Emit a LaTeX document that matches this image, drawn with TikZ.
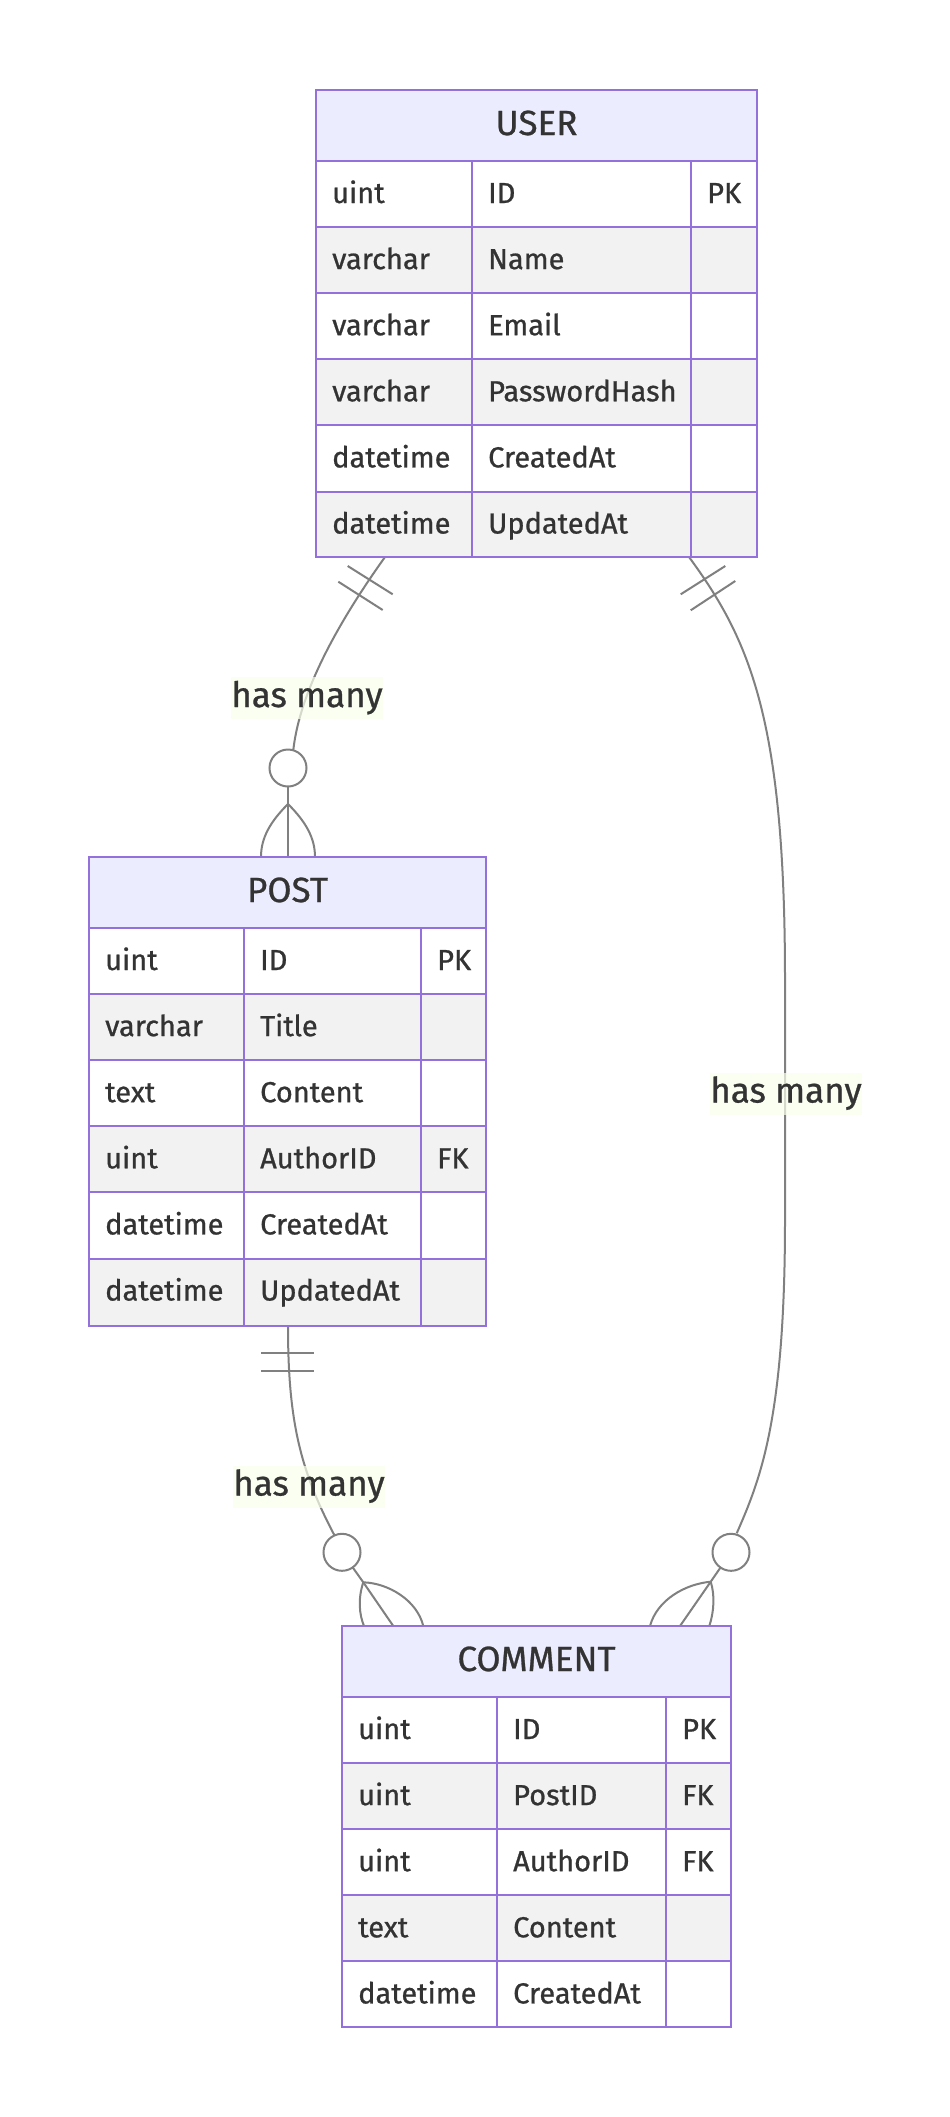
\documentclass[tikz,border=0pt]{standalone}
\usepackage{fontspec}
\setmainfont{Fira Sans}[RawFeature={embolden=0.8}]
\definecolor{erborder}{HTML}{9370DB}
\definecolor{erhead}{HTML}{ECECFF}
\definecolor{errow}{HTML}{F2F2F2}
\definecolor{eredge}{HTML}{808080}
\definecolor{ertext}{HTML}{333333}
\definecolor{erlabel}{RGB}{249,255,236}
\tikzset{
  tbl/.style={draw=erborder, line width=2pt},
  cell/.style={anchor=base west, inner sep=0pt, text=ertext, font=\fontsize{29}{35}\selectfont},
  ttl/.style={anchor=base, inner sep=0pt, text=ertext, font=\fontsize{35}{42}\selectfont},
  rel/.style={draw=eredge, line width=2pt},
  card/.style={draw=eredge, line width=2pt, fill=white},
  lbl/.style={fill=erlabel, fill opacity=0.7, text opacity=1, text=ertext, minimum width=150pt, minimum height=42pt, inner sep=0pt, text height=26pt, text depth=8pt, font=\fontsize{35}{42}\selectfont},
}
% #1 name, #2 x0, #3 x1, #4 x2, #5 x3, #6 ytop, #7 ybot, #8 title, #9 rows
\newcommand\ertable[9]{%
  \fill[erhead] (#2,#6) rectangle (#5,#6+71);
  \node[ttl] (#1) at ({(#2+#5)/2},#6+45) {#8};
  \foreach \ty/\nm/\ky [count=\i] in {#9} {
    \pgfmathsetmacro\yt{#6+71+(\i-1)*66.1}
    \pgfmathtruncatemacro\odd{mod(\i,2)}
    \ifnum\odd=1 \def\rc{white}\else\def\rc{errow}\fi
    \fill[\rc] (#2,\yt) rectangle (#5,\yt+66.1);
    \node[cell] (#1-t\i) at (#2+16,\yt+42) {\ty};
    \node[cell] (#1-n\i) at (#3+16,\yt+42) {\nm};
    \node[cell] (#1-k\i) at (#4+16,\yt+42) {\ky};
    \draw[tbl] (#2,\yt) -- (#5,\yt);
  }
  \draw[tbl] (#3,#6+71) -- (#3,#7) (#4,#6+71) -- (#4,#7);
  \draw[tbl] (#2,#6) rectangle (#5,#7);
}
\begin{document}
\begin{tikzpicture}[x=1pt,y=-1pt]
\useasboundingbox (0,0) rectangle (950,2117);
\fill[white] (0,0) rectangle (950,2117);

% ---------- USER -> POST ----------
\coordinate (e1s) at (385,557);
\coordinate (e1c) at (288,768);
\coordinate (e1a) at (288,804);
\draw[rel] (e1s) .. controls (340,620) and (300,690) .. (293.3,750);
\draw[rel] (347.7,566) -- (392.7,594.3) (338.3,581.7) -- (382.7,610);
\draw[rel] (288,786) -- (e1a);
\draw[rel] (e1a) -- (288,857);
\draw[rel] (e1a) .. controls (270,822) and (261,838) .. (261,857);
\draw[rel] (e1a) .. controls (306,822) and (315,838) .. (315,857);
\node[card, circle, minimum size=37pt, inner sep=0pt] (e1o) at (e1c) {};

% ---------- POST -> COMMENT ----------
\coordinate (e2s) at (288,1326);
\coordinate (e2c) at (342,1552.3);
\coordinate (e2a) at (363.3,1582.3);
\draw[rel] (e2s) .. controls (288,1420) and (300,1470) .. (334.3,1535);
\draw[rel] (261,1352.7) -- (314.3,1352.7) (261,1371) -- (314.3,1371);
\draw[rel] (352.7,1567.4) -- (e2a);
\draw[rel] (e2a) -- (393.3,1626);
\draw[rel] (e2a) .. controls (358,1598) and (359,1614) .. (364,1626);
\draw[rel] (e2a) .. controls (388,1583) and (417,1600) .. (423.3,1626);
\node[card, circle, minimum size=37pt, inner sep=0pt] (e2o) at (e2c) {};

% ---------- USER -> COMMENT ----------
\coordinate (e3s) at (689,557);
\coordinate (e3c) at (731,1552.3);
\coordinate (e3a) at (710.7,1581.7);
\draw[rel] (e3s) .. controls (750,640) and (785,720) .. (785,980) -- (785,1220)
  .. controls (785,1420) and (760,1480) .. (736.7,1533.3);
\draw[rel] (680.7,594.3) -- (725.3,566) (690.7,610.3) -- (735.3,581);
\draw[rel] (720.5,1567.5) -- (e3a);
\draw[rel] (e3a) -- (680,1626);
\draw[rel] (e3a) .. controls (685,1584) and (657,1600) .. (650,1626);
\draw[rel] (e3a) .. controls (715,1595) and (714,1612) .. (709.3,1626);
\node[card, circle, minimum size=37pt, inner sep=0pt] (e3o) at (e3c) {};

% ---------- labels ----------
\node[lbl] (l1) at (307,698) {has many};
\node[lbl] (l2) at (309,1486.5) {has many};
\node[lbl] (l3) at (786,1093.5) {has many};

% ---------- tables ----------
\ertable{user}{316}{472}{691}{757}{90}{557}{USER}{uint/ID/PK, varchar/Name/{}, varchar/Email/{}, varchar/PasswordHash/{}, datetime/CreatedAt/{}, datetime/UpdatedAt/{}}
\ertable{post}{89}{244}{421}{486}{857}{1326}{POST}{uint/ID/PK, varchar/Title/{}, text/Content/{}, uint/AuthorID/FK, datetime/CreatedAt/{}, datetime/UpdatedAt/{}}
\ertable{comment}{342}{497}{666}{731}{1626}{2027}{COMMENT}{uint/ID/PK, uint/PostID/FK, uint/AuthorID/FK, text/Content/{}, datetime/CreatedAt/{}}
\end{tikzpicture}
\end{document}
